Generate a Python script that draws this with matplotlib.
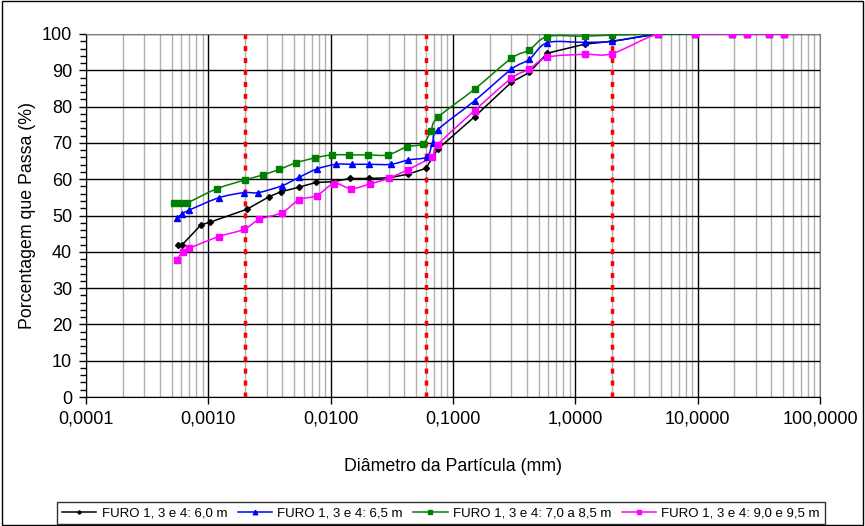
import numpy as np
import matplotlib
matplotlib.use("Agg")
import matplotlib.pyplot as plt
from matplotlib.path import Path
from matplotlib.patches import PathPatch, Rectangle
from matplotlib.lines import Line2D
from matplotlib.ticker import FixedLocator, FuncFormatter, MultipleLocator, NullFormatter

plt.rcParams["font.family"] = ["Liberation Sans", "DejaVu Sans"]
plt.rcParams["lines.scale_dashes"] = False

# sieve openings shared by all samples (mm)
sieve_d = [0.15, 0.30, 0.42, 0.59, 1.19, 2.0, 4.76, 9.5, 19.1, 25.4, 38.1, 50.8]

# FURO 1, 3 e 4: 6,0 m
d_60 = [0.00056, 0.00061, 0.00087, 0.00104, 0.00206, 0.00315, 0.0039, 0.0055, 0.0076,
        0.0104, 0.0144, 0.0205, 0.0302, 0.0432, 0.060, 0.075]
p_60 = [41.9, 41.9, 47.4, 48.2, 51.7, 55.2, 56.5, 57.8, 59.1,
        59.3, 60.2, 60.2, 60.4, 61.4, 63.0, 68.3,
        77.2, 86.7, 89.4, 94.7, 97.2, 98.0, 100, 100, 100, 100, 100, 100]

# FURO 1, 3 e 4: 6,5 m
d_65 = [0.00055, 0.00061, 0.0007, 0.00122, 0.00196, 0.00256, 0.0040, 0.0055, 0.0077,
        0.0110, 0.0150, 0.0207, 0.031, 0.0432, 0.061, 0.068, 0.075]
p_65 = [49.2, 50.4, 51.5, 54.9, 56.3, 56.3, 58.2, 60.5, 62.8,
        64.1, 64.1, 64.1, 64.1, 65.3, 66.2, 70.1, 73.6,
        81.6, 90.3, 93.0, 97.6, 97.7, 98.0, 100, 100, 100, 100, 100, 100]

# FURO 1, 3 e 4: 7,0 a 8,5 m
d_78 = [0.00052, 0.00059, 0.00067, 0.00118, 0.0020, 0.0028, 0.0038, 0.0052, 0.0075,
        0.0103, 0.0141, 0.0201, 0.0293, 0.0419, 0.057, 0.066, 0.075]
p_78 = [53.5, 53.5, 53.5, 57.4, 59.8, 61.2, 62.7, 64.5, 65.9,
        66.7, 66.7, 66.7, 66.7, 68.9, 69.8, 73.4, 77.0,
        84.8, 93.3, 95.6, 99.3, 99.4, 99.7, 100, 100, 100, 100, 100, 100]

# FURO 1, 3 e 4: 9,0 e 9,5 m
d_95 = [0.00055, 0.00062, 0.0007, 0.00122, 0.00196, 0.0026, 0.0040, 0.0055, 0.0077,
        0.0107, 0.0147, 0.021, 0.030, 0.0425, 0.067, 0.075]
p_95 = [37.7, 40.0, 41.0, 44.2, 46.2, 48.9, 50.8, 54.3, 55.5,
        58.8, 57.4, 58.7, 60.3, 62.6, 66.2, 69.5,
        78.9, 87.8, 90.3, 93.6, 94.4, 94.6, 100, 100, 100, 100, 100, 100]

labels = ["FURO 1, 3 e 4: 6,0 m", "FURO 1, 3 e 4: 6,5 m",
          "FURO 1, 3 e 4: 7,0 a 8,5 m", "FURO 1, 3 e 4: 9,0 e 9,5 m"]
limits = [0.002, 0.06, 2.0]
decades = [0.0001, 0.001, 0.01, 0.1, 1, 10, 100]


def smooth_path(xs, ys):
    # Catmull-Rom -> cubic Bezier, built in (log10 x, y) space
    lx = np.log10(xs)
    y = np.asarray(ys, float)
    n = len(lx)
    verts = [(xs[0], y[0])]
    codes = [Path.MOVETO]
    for i in range(n - 1):
        i0, i2 = max(i - 1, 0), min(i + 2, n - 1)
        c1 = (lx[i] + (lx[i + 1] - lx[i0]) / 6, y[i] + (y[i + 1] - y[i0]) / 6)
        c2 = (lx[i + 1] - (lx[i2] - lx[i]) / 6, y[i + 1] - (y[i2] - y[i]) / 6)
        verts += [(10 ** c1[0], c1[1]), (10 ** c2[0], c2[1]), (xs[i + 1], y[i + 1])]
        codes += [Path.CURVE4] * 3
    return Path(verts, codes)


fig = plt.figure(figsize=(8.65, 5.26), dpi=100)
ax = fig.add_axes([86 / 865, 1 - 397 / 526, 734 / 865, 363 / 526])
ax.set_xscale("log")
ax.set_xlim(decades[0], decades[-1])
ax.set_ylim(0, 100)

minor = [d * k for d in decades[:-1] for k in range(2, 10)]
ax.xaxis.set_major_locator(FixedLocator(decades))
ax.xaxis.set_minor_locator(FixedLocator(minor))
ax.xaxis.set_major_formatter(FuncFormatter(lambda v, _: f"{v:.4f}".replace(".", ",")))
ax.xaxis.set_minor_formatter(NullFormatter())
ax.yaxis.set_major_locator(MultipleLocator(10))
ax.yaxis.set_minor_locator(MultipleLocator(2))

ax.grid(which="minor", axis="x", color="#b0b0b0", lw=1)
ax.grid(which="major", axis="x", color="black", lw=1)
ax.grid(which="major", axis="y", color="black", lw=1)
ax.set_axisbelow(True)

for s in ["top", "right"]:
    ax.spines[s].set_color("#808080")
for s in ["left", "bottom"]:
    ax.spines[s].set_color("black")
ax.tick_params(which="major", length=5, width=1, labelsize=13, pad=5)
ax.tick_params(which="minor", axis="y", length=4, width=1)
ax.tick_params(which="minor", axis="x", length=0)

for lim in limits:
    ax.axvline(lim, color="red", lw=2.5, dashes=(3.6, 5), zorder=3)

series = [
    (d_60, p_60, "black", "D", 3.0, False),
    (d_65, p_65, "blue", "^", 4.5, True),
    (d_78, p_78, "green", "s", 3.8, True),
    (d_95, p_95, "magenta", "s", 3.8, True),
]
handles = []
for (d, p, col, mk, ms, smooth), lab in zip(series, labels):
    xs = np.array(d + sieve_d)
    ys = np.array(p)
    if smooth:
        ax.add_patch(PathPatch(smooth_path(xs, ys), fill=False, edgecolor=col, lw=1.1, zorder=4))
    else:
        ax.plot(xs, ys, color=col, lw=1.1, zorder=4)
    ax.plot(xs, ys, ls="none", marker=mk, ms=ms, color=col, zorder=5)
    handles.append(Line2D([], [], color=col, lw=1.1, marker=mk, ms=ms - 1.2))

ax.set_xlabel("Diâmetro da Partícula (mm)", fontsize=12.8, labelpad=22)
ax.set_ylabel("Porcentagem que Passa (%)", fontsize=12.8, labelpad=4)

leg = fig.legend(handles, labels, loc="center", bbox_to_anchor=(441 / 865, 13 / 526), ncol=4,
                 fontsize=9.5, frameon=True, fancybox=False, edgecolor="black",
                 handlelength=2.6, handletextpad=0.4, columnspacing=0.8, borderpad=0.4)
leg.get_frame().set_linewidth(1)

fig.patches.append(Rectangle((0.002, 0.002), 0.996, 0.996, transform=fig.transFigure,
                             fill=False, edgecolor="black", lw=1))

fig.savefig("out.png", dpi=100)
